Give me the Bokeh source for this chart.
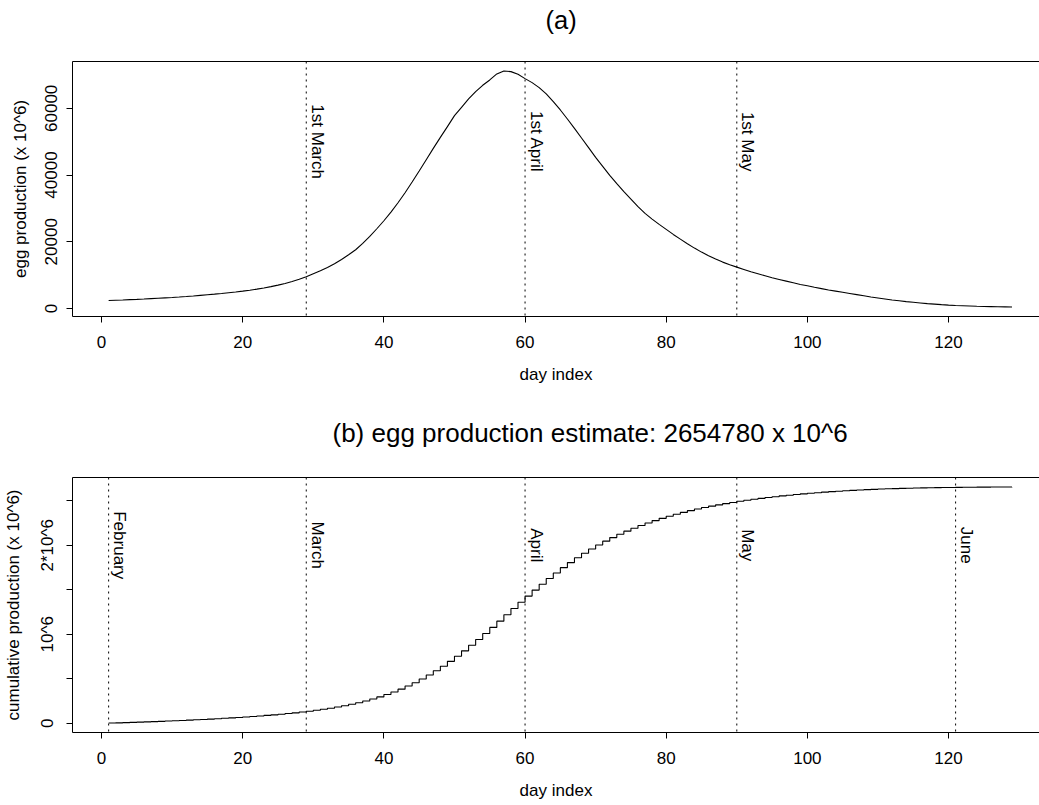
import math
from bokeh.plotting import figure
from bokeh.layouts import column
from bokeh.models import Range1d, FixedTicker, Span, LinearAxis, Title, ColumnDataSource
from bokeh.core.properties import value
from bokeh.embed import file_html
from bokeh.resources import INLINE

# ---------------- data ----------------
days = list(range(1, 130))
eggs = [
    2400, 2480, 2560, 2650, 2740, 2840, 2950, 3060, 3180, 3310,
    3450, 3600, 3760, 3930, 4110, 4300, 4500, 4720, 4950, 5200,
    5480, 5800, 6150, 6550, 7000, 7500, 8100, 8750, 9500,
    10400, 11300, 12300, 13400, 14700, 16100, 17600, 19500, 21600, 23900, 26300,
    28900, 31700, 34700, 37900, 41200, 44600, 48000, 51300, 54500, 57800,
    60300, 62800, 65000, 66900, 68500, 70300, 71200, 71000, 70200, 68900,
    67700, 66200, 64300, 62000, 59500, 56800, 54000, 51100, 48200, 45300,
    42600, 39900, 37400, 35000, 32800, 30520, 28500, 26800, 25200, 23700,
    22200, 20800, 19400, 18100, 16900, 15800, 14800, 13900, 13100, 12400,
    11700, 11000, 10400, 9800, 9200, 8700, 8200, 7700, 7200, 6800,
    6350, 5950, 5550, 5200, 4850, 4500, 4150, 3800, 3450, 3150,
    2850, 2550, 2300, 2050, 1850, 1650, 1450, 1300, 1150, 1020,
    910, 820, 740, 670, 610, 560, 510, 470, 430,
]
x_ticks = [0, 20, 40, 60, 80, 100, 120]
y_ticks_a = [0, 20000, 40000, 60000]
y_labels_a = ["0", "20000", "40000", "60000"]
y_ticks_b = [0, 500000, 1000000, 1500000, 2000000, 2500000]
y_labels_b = ["0", "", "10^6", "", "2*10^6", ""]
marks_a_days = [29, 60, 90]
marks_a_labels = ["1st March", "1st April", "1st May"]
marks_b_days = [1, 29, 60, 90, 121]
marks_b_labels = ["February", "March", "April", "May", "June"]
title_a = "(a)"
title_b = "(b) egg production estimate: 2654780 x 10^6"
xlabel = "day index"
ylabel_a = "egg production (x 10^6)"
ylabel_b = "cumulative production (x 10^6)"

cumulative = []
run = 0
for v in eggs:
    run += v
    cumulative.append(run)

# ---------------- style / layout ----------------
FONT = "Liberation Sans"
FS = "17px"
W = 1039
BORDER_L = 72
FRAME_W = W - BORDER_L
FRAME_H = 255
PX_PER_DAY = 7.058
LABEL_Y_A = 50000
LABEL_Y_B = 2000000


def padded(lo, hi, f=0.04):
    d = (hi - lo) * f
    return lo - d, hi + d


x_lo, _ = padded(min(days), max(days))
x_hi = x_lo + FRAME_W / PX_PER_DAY


def make_fig(top, bottom, yr, title, title_size, title_offset, title_gap):
    p = figure(width=W, height=top + FRAME_H + bottom, output_backend="svg",
               toolbar_location=None,
               x_range=Range1d(x_lo, x_hi), y_range=Range1d(*yr),
               min_border_left=BORDER_L, min_border_right=0,
               min_border_top=top, min_border_bottom=bottom)
    p.outline_line_color = None
    p.grid.visible = False
    p.background_fill_color = "white"
    p.border_fill_color = "white"
    for ax in (p.xaxis[0], p.yaxis[0]):
        ax.axis_line_color = "black"
        ax.axis_line_width = 1
        ax.major_tick_line_color = "black"
        ax.major_tick_out = 6
        ax.major_tick_in = 0
        ax.minor_tick_line_color = None
        ax.major_label_text_font = FONT
        ax.major_label_text_font_size = FS
        ax.major_label_text_color = "black"
        ax.axis_label_text_font = FONT
        ax.axis_label_text_font_size = FS
        ax.axis_label_text_font_style = "normal"
        ax.axis_label_text_color = "black"
    xa = p.xaxis[0]
    xa.ticker = FixedTicker(ticks=x_ticks)
    xa.axis_label = xlabel
    xa.major_label_standoff = 13
    xa.axis_label_standoff = 14
    ya = p.yaxis[0]
    ya.major_label_orientation = "vertical"
    ya.major_label_standoff = 9
    ya.axis_label_standoff = 13
    # top edge of the box; its invisible ticks (no labels) space the title above it
    top_line = LinearAxis(ticker=FixedTicker(ticks=x_ticks), axis_line_color="black",
                          major_tick_line_color=None, minor_tick_line_color=None,
                          major_tick_out=title_gap, major_tick_in=0, major_label_standoff=0,
                          major_label_overrides={t: "" for t in x_ticks})
    p.add_layout(top_line, "above")
    p.add_layout(Title(text=title, align="left", offset=title_offset, vertical_align="bottom",
                       standoff=0, text_font=FONT, text_font_size=title_size,
                       text_font_style="normal", text_color="black"), "above")
    return p


def add_marks(p, mdays, mlabels, label_y):
    for d in mdays:
        p.add_layout(Span(location=d, dimension="height", line_color="black",
                          line_width=1, line_dash="2 4"))
    src = ColumnDataSource(dict(x=mdays, y=[label_y] * len(mdays), t=mlabels))
    p.text(x="x", y="y", text="t", source=src, angle=-math.pi / 2,
           text_align="center", text_baseline="middle", x_offset=11,
           text_font=value(FONT), text_font_size=FS, text_color="black")


# panel (a)
pa = make_fig(61, 92, padded(min(eggs), max(eggs)), title_a, "25.5px", 473, 28)
pa.yaxis[0].ticker = FixedTicker(ticks=y_ticks_a)
pa.yaxis[0].major_label_overrides = {t: l for t, l in zip(y_ticks_a, y_labels_a)}
pa.yaxis[0].axis_label = ylabel_a
add_marks(pa, marks_a_days, marks_a_labels, LABEL_Y_A)
pa.line(days, eggs, line_color="black", line_width=1.1)

# panel (b)
pb = make_fig(69, 73, padded(min(cumulative), max(cumulative)), title_b, "26px", 260, 30)
pb.yaxis[0].ticker = FixedTicker(ticks=y_ticks_b)
pb.yaxis[0].major_label_overrides = {t: l for t, l in zip(y_ticks_b, y_labels_b)}
pb.yaxis[0].axis_label = ylabel_b
add_marks(pb, marks_b_days, marks_b_labels, LABEL_Y_B)
pb.step(days, cumulative, mode="after", line_color="black", line_width=1.1)

layout = column(pa, pb, spacing=0)
open("out.html", "w").write(file_html(layout, INLINE))
